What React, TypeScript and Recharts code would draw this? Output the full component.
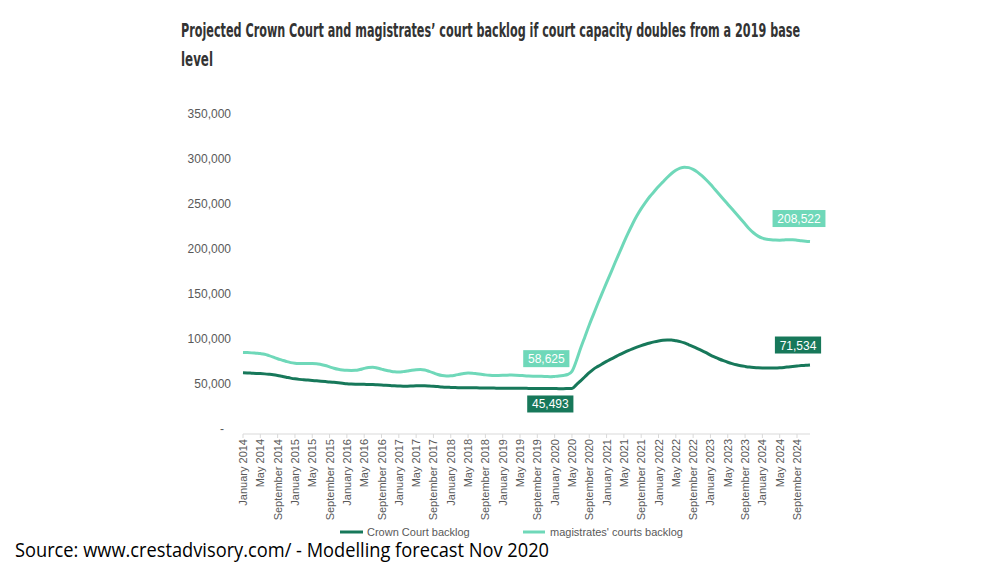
import { LineChart, Line, XAxis, YAxis, LabelList } from "recharts";

const MONTHS = [
  "January", "February", "March", "April", "May", "June",
  "July", "August", "September", "October", "November", "December",
];
const YEARS = [2014, 2015, 2016, 2017, 2018, 2019, 2020, 2021, 2022, 2023, 2024];

const categories = YEARS.flatMap((y) => MONTHS.map((m) => `${m} ${y}`));

// Crown Court backlog, monthly Jan 2014 - Dec 2024
const crownCourt = [
  63000, 62800, 62500, 62200, 62000, 61700, 61300, 60800, 60000, 59000, 58000, 57000,
  56200, 55600, 55200, 54800, 54400, 54000, 53600, 53200, 52800, 52300, 51800, 51300,
  50800, 50500, 50300, 50200, 50100, 50000, 49900, 49600, 49300, 49000, 48700, 48400,
  48200, 48000, 48000, 48200, 48400, 48500, 48500, 48300, 48000, 47600, 47200, 46900,
  46700, 46500, 46400, 46300, 46300, 46200, 46200, 46100, 46000, 45900, 45900, 45800,
  45800, 45700, 45700, 45700, 45700, 45700, 45600, 45600, 45600, 45500, 45500, 45493,
  45400, 45300, 45300, 45400, 45500, 49500, 54000, 58500, 63000, 67000, 70000, 72800,
  75500, 78000, 80500, 83000, 85300, 87500, 89500, 91300, 93000, 94600, 96000, 97200,
  98200, 99000, 99400, 99300, 98500, 97500, 96000, 94000, 92000, 89800, 87500, 85200,
  82500, 80300, 78200, 76300, 74600, 73100, 71800, 70800, 70000, 69300, 68800, 68400,
  68200, 68100, 68100, 68200, 68500, 68900, 69400, 69900, 70400, 70900, 71200, 71534,
];

// magistrates' courts backlog, monthly Jan 2014 - Dec 2024
const magistrates = [
  85500, 85300, 85000, 84600, 84200, 83500, 82000, 80300, 78500, 77000, 75500, 74200,
  73500, 73200, 73100, 73100, 73100, 73000, 72200, 71000, 69500, 68000, 66800, 66000,
  65600, 65500, 65600, 66500, 67800, 68800, 69000, 68200, 67000, 65800, 64800, 64000,
  63700, 64200, 65000, 65800, 66400, 66600, 66000, 64500, 62800, 61000, 59800, 59300,
  59500, 60200, 61200, 62200, 62600, 62400, 61800, 61200, 60600, 60200, 60000, 60000,
  60100, 60300, 60400, 60300, 60000, 59600, 59300, 59100, 59000, 59000, 58800, 58625,
  58900, 59300, 60000, 61000, 64500, 76000, 90000, 103000, 116000, 128000, 140000, 151500,
  163000, 174000, 185500, 196500, 207500, 218000, 228000, 237000, 245000, 252000, 258500, 264000,
  269500, 274500, 279500, 284000, 287500, 290000, 291000, 290500, 288500, 285500, 281500, 277000,
  272000, 266500, 261000, 255500, 250000, 244500, 239000, 233500, 228000, 222500, 218000, 214500,
  212200, 211000, 210400, 210100, 210000, 210300, 210600, 210500, 210000, 209400, 208900, 208522,
];

const yTicks = [0, 50000, 100000, 150000, 200000, 250000, 300000, 350000];

const DARK = "#17785a";
const LIGHT = "#6fd8b9";
const AXIS_TEXT = "#595959";

const data = categories.map((month, i) => ({
  month,
  crown: crownCourt[i],
  mags: magistrates[i],
}));

type LabelSpot = { dx: number; dy: number };

const makeBoxLabel = (spots: Record<number, LabelSpot>, fill: string) => (props: any) => {
  const { x, y, value, index } = props;
  const spot = spots[index];
  if (!spot || x == null || y == null) return null;
  const text = Number(value).toLocaleString("en-GB");
  const w = text.length * 6.7 + 6;
  const h = 17;
  const cx = x + spot.dx;
  const cy = y + spot.dy;
  return (
    <g>
      <rect x={cx - w / 2} y={cy - h / 2} width={w} height={h} fill={fill} />
      <text
        x={cx}
        y={cy + 0.5}
        textAnchor="middle"
        dominantBaseline="central"
        fill="#ffffff"
        fontSize={12}
        fontFamily="'Liberation Sans', Arial, sans-serif"
      >
        {text}
      </text>
    </g>
  );
};

const crownLabel = makeBoxLabel({ 71: { dx: 0, dy: 15.5 }, 131: { dx: -12, dy: -20 } }, DARK);
const magsLabel = makeBoxLabel({ 71: { dx: -4, dy: -18 }, 131: { dx: -11, dy: -23 } }, LIGHT);

const YTick = (props: any) => {
  const { y, payload } = props;
  const v = payload.value as number;
  if (v === 0) {
    return (
      <text x={222} y={y} textAnchor="middle" dominantBaseline="central" fill={AXIS_TEXT} fontSize={12}>
        -
      </text>
    );
  }
  return (
    <text x={231} y={y} textAnchor="end" dominantBaseline="central" fill={AXIS_TEXT} fontSize={12}>
      {v.toLocaleString("en-GB")}
    </text>
  );
};

const XTick = (props: any) => {
  const { x, y, payload } = props;
  return (
    <text
      transform={`translate(${x},${y - 1}) rotate(-90)`}
      textAnchor="end"
      dominantBaseline="central"
      fill={AXIS_TEXT}
      fontSize={11}
    >
      {payload.value}
    </text>
  );
};

const titleFont = "'Liberation Sans Narrow', 'DejaVu Sans Condensed', 'DejaVu Sans', sans-serif";

export default function App() {
  const font = "'Liberation Sans', Arial, sans-serif";
  return (
    <div
      style={{
        position: "absolute",
        left: 0,
        top: 0,
        width: 1000,
        height: 563,
        background: "#ffffff",
        overflow: "hidden",
        fontFamily: font,
      }}
    >
      <svg width={1000} height={80} style={{ position: "absolute", left: 0, top: 0 }}>
        <text
          transform="translate(181,37) scale(1,1.45)"
          fontSize={13}
          fontWeight="bold"
          fill="#333333"
          fontFamily={titleFont}
          textLength={619}
          lengthAdjust="spacingAndGlyphs"
        >
          Projected Crown Court and magistrates’ court backlog if court capacity doubles from a 2019 base
        </text>
        <text
          transform="translate(181,66) scale(1,1.45)"
          fontSize={13}
          fontWeight="bold"
          fill="#333333"
          fontFamily={titleFont}
          textLength={32}
          lengthAdjust="spacingAndGlyphs"
        >
          level
        </text>
      </svg>

      <div style={{ position: "absolute", left: 0, top: 0 }}>
        <LineChart
          width={1000}
          height={563}
          data={data}
          margin={{ top: 114, right: 190, bottom: 0, left: 0 }}
          style={{ fontFamily: font }}
        >
          <YAxis
            type="number"
            domain={[-5000, 350000]}
            ticks={yTicks}
            width={243}
            axisLine={false}
            tickLine={false}
            tick={<YTick />}
          />
          <XAxis
            dataKey="month"
            interval={3}
            height={129}
            axisLine={{ stroke: "#d9d9d9" }}
            tickLine={{ stroke: "#d9d9d9" }}
            tickSize={4}
            tick={<XTick />}
          />
          <Line
            type="monotone"
            dataKey="crown"
            name="Crown Court backlog"
            stroke={DARK}
            strokeWidth={3}
            dot={false}
            isAnimationActive={false}
          >
            <LabelList dataKey="crown" content={crownLabel} />
          </Line>
          <Line
            type="monotone"
            dataKey="mags"
            name="magistrates' courts backlog"
            stroke={LIGHT}
            strokeWidth={3}
            dot={false}
            isAnimationActive={false}
          >
            <LabelList dataKey="mags" content={magsLabel} />
          </Line>
        </LineChart>
      </div>

      <svg width={1000} height={563} style={{ position: "absolute", left: 0, top: 0, pointerEvents: "none" }}>
        <line x1={340} x2={363} y1={532} y2={532} stroke={DARK} strokeWidth={3} />
        <text x={367} y={532} dominantBaseline="central" fontSize={11} fill={AXIS_TEXT} fontFamily={font}>
          Crown Court backlog
        </text>
        <line x1={523} x2={545} y1={532} y2={532} stroke={LIGHT} strokeWidth={3} />
        <text x={550} y={532} dominantBaseline="central" fontSize={11} fill={AXIS_TEXT} fontFamily={font}>
          magistrates' courts backlog
        </text>
        <text
          x={15}
          y={557}
          fontSize={20}
          fill="#000000"
          fontFamily="'Open Sans', 'Noto Sans', sans-serif"
          textLength={534}
          lengthAdjust="spacingAndGlyphs"
        >
          Source: www.crestadvisory.com/ - Modelling forecast Nov 2020
        </text>
      </svg>
    </div>
  );
}
